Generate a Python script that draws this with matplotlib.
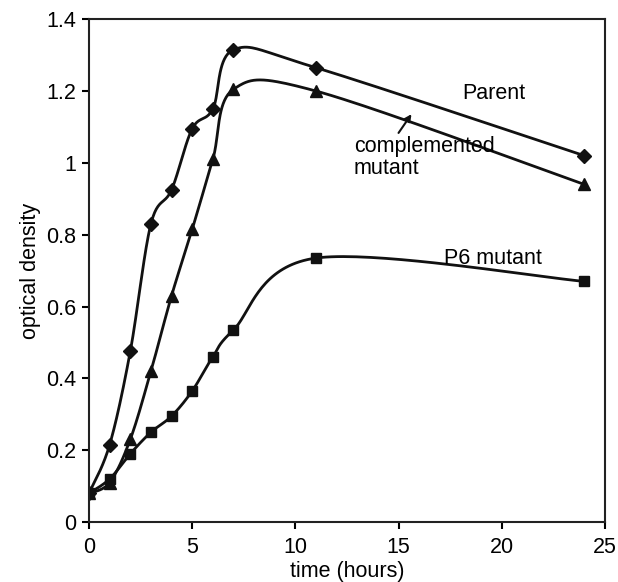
import numpy as np
import matplotlib
matplotlib.use('Agg')
from matplotlib import pyplot as plt
from matplotlib.ticker import FuncFormatter

plt.rcParams['font.family'] = ['Liberation Sans', 'DejaVu Sans']

# sampling times (hours)
time = [0, 1, 2, 3, 4, 5, 6, 7, 11, 24]
parent = [0.08, 0.215, 0.475, 0.83, 0.925, 1.095, 1.15, 1.315, 1.265, 1.02]
complemented = [0.08, 0.11, 0.23, 0.42, 0.63, 0.815, 1.01, 1.205, 1.20, 0.94]
p6_mutant = [0.08, 0.12, 0.19, 0.25, 0.295, 0.365, 0.46, 0.535, 0.735, 0.67]

XMAX, YMAX = 25, 1.4

# Excel-like smoothed line (Catmull-Rom done in pixel-ish space)
def smooth(x, y, n=40):
	px = np.asarray(x, float) / XMAX * 516
	py = np.asarray(y, float) / YMAX * 503
	P = np.column_stack((px, py))
	P = np.vstack((P[0], P, P[-1]))
	out = []
	for i in range(1, len(P) - 2):
		p0, p1, p2, p3 = P[i-1], P[i], P[i+1], P[i+2]
		c1 = p1 + (p2 - p0) / 6
		c2 = p2 - (p3 - p1) / 6
		t = np.linspace(0, 1, n)[:, None]
		seg = (1-t)**3*p1 + 3*(1-t)**2*t*c1 + 3*(1-t)*t**2*c2 + t**3*p2
		out.append(seg)
	out = np.vstack(out)
	return out[:, 0] / 516 * XMAX, out[:, 1] / 503 * YMAX

fig = plt.figure(figsize=(6.18, 5.82), dpi=100)
ax = fig.add_axes([0.144, 0.103, 0.835, 0.864])

for ys, mk, ms in [(parent, 'D', 7), (complemented, '^', 9), (p6_mutant, 's', 7)]:
	sx, sy = smooth(time, ys)
	ax.plot(sx, sy, color='#111111', lw=2)
	ax.plot(time, ys, ls='none', marker=mk, ms=ms, color='#111111')

ax.set_xlim(0, XMAX)
ax.set_ylim(0, YMAX)
ax.set_xticks([0, 5, 10, 15, 20, 25])
ax.set_yticks(np.arange(0, 1.41, 0.2))
ax.yaxis.set_major_formatter(FuncFormatter(lambda v, p: '%g' % round(v, 1)))
ax.tick_params(labelsize=15.5, direction='out', length=5, width=1.5, pad=4)
ax.tick_params(axis='x', pad=6)
for s in ax.spines.values():
	s.set_linewidth(1.5)
	s.set_color('#222222')
ax.set_xlabel('time (hours)', fontsize=15.5, labelpad=2)
ax.set_ylabel('optical density', fontsize=15.5, labelpad=4)

ax.text(18.07, 1.194, 'Parent', fontsize=15.5, va='center')
ax.text(12.84, 1.015, 'complemented\nmutant', fontsize=15.5, va='center', linespacing=1.05)
ax.annotate('', xy=(15.7, 1.142), xytext=(14.92, 1.077),
	arrowprops=dict(arrowstyle='-|>', color='#111111', lw=1.5, mutation_scale=10))
ax.text(17.2, 0.735, 'P6 mutant', fontsize=15.5, va='center')

plt.savefig('out.png', dpi=100)
plt.close()
